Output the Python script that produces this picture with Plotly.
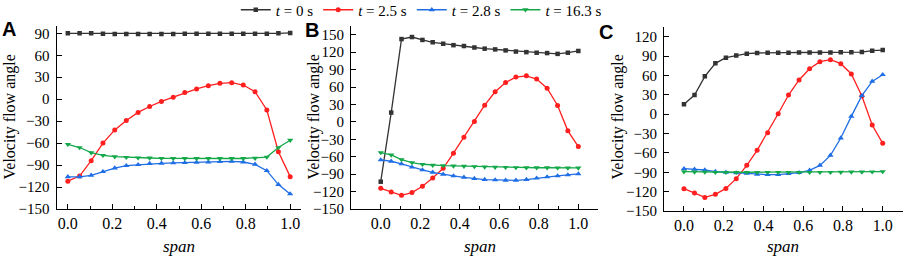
import plotly.graph_objects as go

span = [0.0, 0.053, 0.105, 0.158, 0.211, 0.263, 0.316, 0.368, 0.421, 0.474,
        0.526, 0.579, 0.632, 0.684, 0.737, 0.789, 0.842, 0.895, 0.947, 1.0]

series_names = ["<i>t</i> = 0 s", "<i>t</i> = 2.5 s", "<i>t</i> = 2.8 s", "<i>t</i> = 16.3 s"]

# Panel A
A_t0 = [90, 90, 90, 89.5, 89, 89, 89, 89, 89, 89, 89.5, 89.5, 89.5, 89.5, 89.5, 89.5, 89.5, 89.5, 90, 90.5]
A_t25 = [-112, -105, -84, -60, -42, -29, -18, -10, -3, 2.6, 9, 14, 18.5, 21.7, 22.6, 19.4, 10.3, -14.7, -71.7, -105.8]
A_t28 = [-106, -106, -104, -99, -94, -90.8, -89.4, -88, -87.6, -87, -86.7, -86.2, -85.8, -85.3, -85, -85.8, -89, -97.6, -116.7, -129.5]
A_t163 = [-61.6, -66, -73, -76.7, -78.5, -79.4, -80, -80.3, -80.8, -81, -81, -81, -81, -81, -81, -81, -80.5, -79, -66, -56]

# Panel B
B_t0 = [-103, 16, 142.5, 146, 141, 137, 134.5, 132, 130.5, 128, 126, 124.7, 123, 121, 120, 119, 118.4, 117, 119, 122]
B_t25 = [-114.4, -120.7, -126.4, -121.8, -111, -96.5, -80, -54, -26.4, 0.6, 28.7, 51.7, 67.8, 77, 79.3, 73.6, 58, 28.2, -15.5, -42.5]
B_t28 = [-65.5, -67.8, -72.4, -78, -82.8, -86.8, -90.2, -93, -95.4, -97.7, -99.4, -100, -100.6, -100.6, -99.4, -97, -94.8, -93, -91.4, -89.6]
B_t163 = [-52.9, -57, -65, -70, -73, -74.7, -75.3, -75.9, -76.4, -77, -77.6, -78, -78.3, -78.6, -78.8, -79, -79, -79.2, -79.3, -79.3]

# Panel C
C_t0 = [15.2, 29.6, 58.6, 78.7, 87.5, 91, 93.7, 94.7, 95.2, 95.2, 95.2, 95.5, 95.5, 95.5, 95.5, 95.7, 95.7, 96.2, 98.3, 99.3]
C_t25 = [-115.4, -122, -128.9, -124.2, -115, -99.9, -79.3, -56, -28.7, 0.7, 29.6, 52.9, 70.4, 81.3, 84.4, 78.2, 62.2, 28.1, -16.8, -45.2]
C_t28 = [-84.5, -85.5, -86.5, -89, -90, -91, -91.7, -93.2, -93.7, -93.7, -92.2, -90.7, -87, -79.3, -63.8, -37, -3.4, 28.6, 50.8, 61.1]
C_t163 = [-89.1, -89.5, -89.7, -90, -90, -90, -90, -90, -90, -90, -90, -90, -90, -90, -90, -89.8, -89.6, -89.5, -89.3, -89]

panels = [
    ("A", [A_t0, A_t25, A_t28, A_t163]),
    ("B", [B_t0, B_t25, B_t28, B_t163]),
    ("C", [C_t0, C_t25, C_t28, C_t163]),
]

colors = ["#333333", "#ff1f1f", "#1f6ee6", "#14a84a"]
symbols = ["square", "circle", "triangle-up", "triangle-down"]
msizes = [4.5, 5, 5.5, 5.5]

W, H = 906, 258
def px_x(p):
    return p / W
def px_y(p):
    return 1 - p / H

x_domains = [[px_x(56.7), px_x(301.3)], [px_x(351.1), px_x(598.1)], [px_x(664.1), px_x(902.6)]]
y_domains = [[px_y(209), px_y(26)], [px_y(209), px_y(26)], [px_y(211), px_y(27)]]
x_ranges = [[-0.05, 1.05], [-0.15, 1.1], [-0.1, 1.1]]
y_ranges = [[-150, 100], [-150, 165], [-150, 135]]
y_tickvals = [
    [-150, -120, -90, -60, -30, 0, 30, 60, 90],
    [-150, -120, -90, -60, -30, 0, 30, 60, 90, 120, 150],
    [-150, -120, -90, -60, -30, 0, 30, 60, 90, 120],
]
x_tickvals = [0.0, 0.2, 0.4, 0.6, 0.8, 1.0]
x_ticktext = ["0.0", "0.2", "0.4", "0.6", "0.8", "1.0"]

fig = go.Figure()
serif = "Liberation Serif"

for i, (label, data) in enumerate(panels):
    xa = "x" if i == 0 else f"x{i+1}"
    ya = "y" if i == 0 else f"y{i+1}"
    for j, vals in enumerate(data):
        fig.add_trace(go.Scatter(
            x=span, y=vals, xaxis=xa, yaxis=ya,
            mode="lines+markers",
            name=series_names[j],
            showlegend=(i == 0),
            line=dict(color=colors[j], width=1.3),
            marker=dict(symbol=symbols[j], size=msizes[j], color=colors[j]),
        ))
    sfx = "" if i == 0 else str(i + 1)
    fig.layout["xaxis" + sfx] = dict(
        domain=x_domains[i], range=x_ranges[i], anchor=ya, automargin=False,
        tickvals=x_tickvals, ticktext=x_ticktext,
    )
    fig.layout["yaxis" + sfx] = dict(
        domain=y_domains[i], range=y_ranges[i], anchor=xa, automargin=False,
        tickvals=y_tickvals[i],
    )
    fig.add_annotation(
        text="<i>span</i>", x=0.5, xref=xa, y=px_y(246.5), yref="paper",
        showarrow=False, xanchor="center", yanchor="middle",
        font=dict(family=serif, size=17, color="black"),
    )

fig.update_xaxes(
    ticks="inside", ticklen=5, tickwidth=1.2, tickcolor="black",
    minor=dict(tickvals=[0.1, 0.3, 0.5, 0.7, 0.9], ticks="inside", ticklen=3, tickwidth=1.2, tickcolor="black"),
    showline=True, linecolor="black", linewidth=1.3,
    showgrid=False, zeroline=False,
    tickfont=dict(family=serif, size=16, color="black"),
    ticklabelstandoff=0,
)
fig.update_yaxes(
    ticks="inside", ticklen=5, tickwidth=1.2, tickcolor="black",
    showline=True, linecolor="black", linewidth=1.3,
    showgrid=False, zeroline=False,
    tickfont=dict(family=serif, size=15, color="black"),
    ticklabelstandoff=3,
)

ytitle_x = [10, 314, 618]
for i, xp in enumerate(ytitle_x):
    fig.add_annotation(
        text="Velocity flow angle", x=px_x(xp), xref="paper",
        y=px_y(117.5), yref="paper", textangle=-90,
        showarrow=False, xanchor="center", yanchor="middle",
        font=dict(family=serif, size=16, color="black"),
    )

label_pos = [(9, 29), (312, 30), (606, 32)]
for (label, _), (xp, yp) in zip(panels, label_pos):
    fig.add_annotation(
        text=f"<b>{label}</b>", x=px_x(xp), xref="paper", y=px_y(yp), yref="paper",
        showarrow=False, xanchor="center", yanchor="middle",
        font=dict(family="Liberation Sans", size=20, color="black"),
    )

fig.update_layout(
    template="none",
    width=W, height=H,
    margin=dict(l=0, r=0, t=0, b=0, autoexpand=False),
    paper_bgcolor="white", plot_bgcolor="white",
    font=dict(family=serif, color="black"),
    legend=dict(
        orientation="h", x=0.465, xanchor="center", y=px_y(10), yanchor="middle",
        font=dict(family=serif, size=15, color="black"),
        bgcolor="rgba(0,0,0,0)", itemwidth=30, tracegroupgap=0,
    ),
)

fig.write_html(
    "out.html",
    config={"displayModeBar": False},
    post_script="document.body.style.margin='0';document.body.style.padding='0';",
)
